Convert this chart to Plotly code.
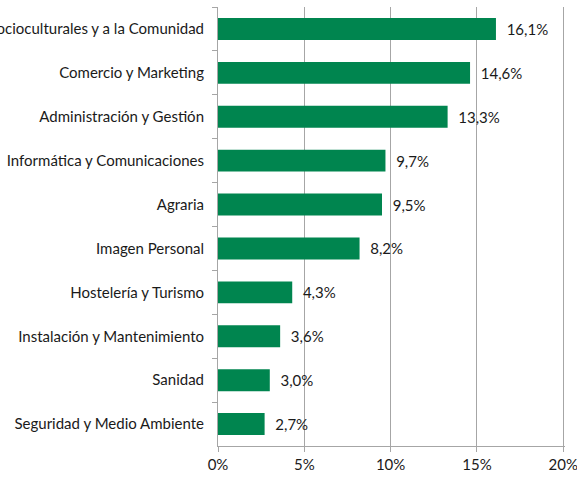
import plotly.graph_objects as go

categories = [
    "Servicios Socioculturales y a la Comunidad",
    "Comercio y Marketing",
    "Administración y Gestión",
    "Informática y Comunicaciones",
    "Agraria",
    "Imagen Personal",
    "Hostelería y Turismo",
    "Instalación y Mantenimiento",
    "Sanidad",
    "Seguridad y Medio Ambiente",
]
values = [16.1, 14.6, 13.3, 9.7, 9.5, 8.2, 4.3, 3.6, 3.0, 2.7]
x_ticks = [0, 5, 10, 15, 20]
x_tick_labels = ["0%", "5%", "10%", "15%", "20%"]

labels = ["  " + f"{v:.1f}".replace(".", ",") + "%" for v in values]

font = "Lato, 'Open Sans', sans-serif"

fig = go.Figure(
    go.Bar(
        x=values,
        y=categories,
        orientation="h",
        marker=dict(color="#00854F", line=dict(width=0)),
        text=labels,
        textposition="outside",
        textfont=dict(family=font, size=15, color="#1a1a1a"),
        cliponaxis=False,
        hoverinfo="skip",
    )
)

fig.update_layout(
    width=577,
    height=477,
    margin=dict(l=218, r=12, t=7, b=31, autoexpand=False),
    paper_bgcolor="white",
    plot_bgcolor="white",
    bargap=0.5,
    showlegend=False,
    font=dict(family=font, size=15, color="#1a1a1a"),
    xaxis=dict(
        range=[0, 20.1],
        tickvals=x_ticks,
        ticktext=x_tick_labels,
        showgrid=True,
        gridcolor="#A6A6A6",
        gridwidth=1,
        zeroline=False,
        showline=True,
        linecolor="#A6A6A6",
        linewidth=1,
        ticks="outside",
        ticklen=5,
        tickcolor="#A6A6A6",
        ticklabeloverflow="allow",
        tickfont=dict(family=font, size=15, color="#1a1a1a"),
        automargin=False,
        fixedrange=True,
    ),
    yaxis=dict(
        autorange="reversed",
        showgrid=False,
        showline=True,
        linecolor="#A6A6A6",
        linewidth=1,
        ticks="outside",
        tickson="boundaries",
        ticklen=5,
        tickcolor="#A6A6A6",
        ticklabelstandoff=10,
        tickfont=dict(family=font, size=15, color="#1a1a1a"),
        automargin=False,
        fixedrange=True,
    ),
)

fig.write_html(
    "out.html",
    config={"displayModeBar": False},
    post_script="document.body.style.margin='0';document.body.style.overflow='hidden';",
)
